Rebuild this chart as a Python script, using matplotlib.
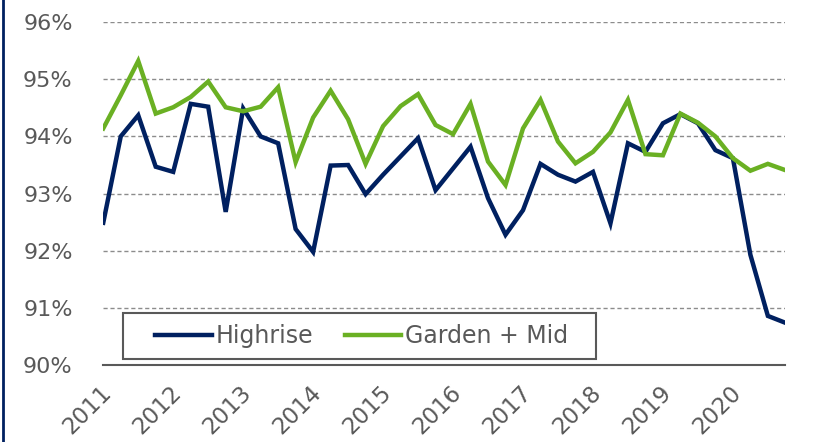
import matplotlib
matplotlib.use("Agg")
import matplotlib.pyplot as plt
import matplotlib.transforms as mtransforms
from matplotlib.lines import Line2D
from matplotlib.patches import Rectangle
import numpy as np

years = ["2011", "2012", "2013", "2014", "2015", "2016", "2017", "2018", "2019", "2020"]
highrise = [92.49, 94.00, 94.37, 93.47, 93.38, 94.57, 94.52, 92.68, 94.49, 94.00,
            93.88, 92.38, 91.98, 93.49, 93.50, 92.99, 93.33, 93.65, 93.97, 93.06,
            93.44, 93.82, 92.92, 92.28, 92.71, 93.52, 93.33, 93.21, 93.38, 92.48,
            93.88, 93.73, 94.23, 94.39, 94.23, 93.76, 93.62, 91.93, 90.86, 90.74]
garden_mid = [94.14, 94.72, 95.32, 94.40, 94.51, 94.69, 94.96, 94.51, 94.44, 94.52,
              94.86, 93.55, 94.33, 94.80, 94.30, 93.52, 94.18, 94.53, 94.74, 94.20,
              94.04, 94.57, 93.56, 93.15, 94.14, 94.64, 93.91, 93.53, 93.73, 94.07,
              94.64, 93.69, 93.67, 94.40, 94.24, 94.00, 93.62, 93.40, 93.52, 93.41]
yticks = [90, 91, 92, 93, 94, 95, 96]

navy = "#002060"
green = "#6AB023"
gray = "#595959"

W, H = 813, 442
fig = plt.figure(figsize=(W / 100, H / 100), dpi=100)
ax = fig.add_axes([0.127, 0.174, 0.839, 0.776])

x = np.arange(len(highrise))
ax.plot(x, highrise, color=navy, lw=3.2, label="Highrise", solid_joinstyle="miter")
ax.plot(x, garden_mid, color=green, lw=3.2, label="Garden + Mid", solid_joinstyle="miter")

ax.set_xlim(0, len(highrise) - 1)
ax.set_ylim(90, 96)
ax.set_yticks(yticks)
ax.set_yticklabels([f"{v}%" for v in yticks])
ax.set_xticks(np.arange(0, len(highrise), 4))
ax.set_xticklabels(years, rotation=45, ha="right", rotation_mode="anchor")

for s in ["left", "right", "top"]:
    ax.spines[s].set_visible(False)
ax.spines["bottom"].set_color(gray)
ax.spines["bottom"].set_linewidth(1.5)
ax.tick_params(axis="y", length=0, colors=gray, labelsize=16, pad=22)
ax.tick_params(axis="x", length=0, colors=gray, labelsize=16.5, pad=10)
offset = mtransforms.ScaledTranslation(-3 / 100, -2 / 100, fig.dpi_scale_trans)
for lab in ax.get_xticklabels():
    lab.set_transform(lab.get_transform() + offset)
for yv in yticks[1:]:
    ax.axhline(yv, color="#8c8c8c", lw=1, ls=(0, (3, 2)), zorder=0)

# legend box (pixel extents from the reference)
bx0, bx1, by0, by1 = 123 / W, 596 / W, 1 - 359 / H, 1 - 313 / H
fig.add_artist(Rectangle((bx0, by0), bx1 - bx0, by1 - by0, transform=fig.transFigure,
                         facecolor="white", edgecolor=gray, lw=1.5, zorder=5))
leg = ax.legend(loc="center", bbox_to_anchor=((bx0 + bx1) / 2 + 2 / W, (by0 + by1) / 2),
                bbox_transform=fig.transFigure, ncol=2, frameon=False,
                fontsize=17, handlelength=2.4, handletextpad=0.15,
                columnspacing=1.35, borderpad=0, labelcolor=gray)
leg.set_zorder(6)
leg.remove()
fig.add_artist(leg)

fig.add_artist(Line2D([0.0035, 0.0035], [0, 1], color=navy, lw=2, transform=fig.transFigure))

fig.savefig("out.png", dpi=100)
